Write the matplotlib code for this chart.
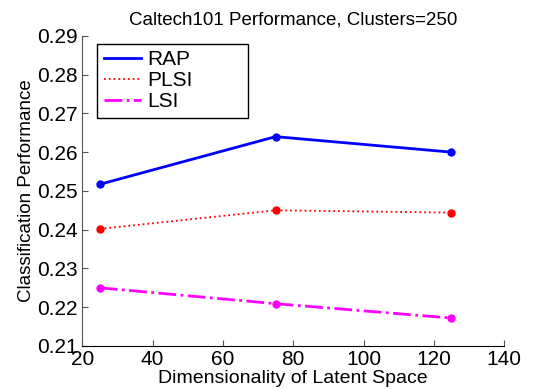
import numpy as np
import matplotlib
matplotlib.use('Agg')
import matplotlib.pyplot as plt

plt.rcParams['font.family'] = ['Liberation Sans', 'DejaVu Sans']

# data
dims = [25, 75, 125]
rap = [0.2517, 0.2640, 0.2600]
plsi = [0.2402, 0.2450, 0.2444]
lsi = [0.2250, 0.2209, 0.2172]

fig = plt.figure(figsize=(5.48, 3.9), dpi=100)
ax = fig.add_axes([0.150, 0.113, 0.770, 0.795])

ax.plot(dims, rap, '-', color='#0000ff', lw=2, marker='o', ms=5, label='RAP')
ax.plot(dims, plsi, ':', color='#ff0000', lw=1.3, marker='o', ms=5, label='PLSI')
ax.plot(dims, lsi, '-.', color='#ff00ff', lw=2, marker='o', ms=5, label='LSI')

ax.set_xlim(20, 140)
ax.set_ylim(0.21, 0.29)
ax.set_xticks(np.arange(20, 141, 20))
ax.set_yticks(np.arange(0.21, 0.2901, 0.01))
ax.set_yticklabels(['%.2f' % v for v in np.arange(0.21, 0.2901, 0.01)])
ax.tick_params(direction='in', labelsize=15, length=4, color='#555555', pad=3)
ax.spines['top'].set_visible(False)
ax.spines['right'].set_visible(False)
ax.spines['left'].set_color('#555555')
ax.spines['bottom'].set_color('black')

ax.set_title('Caltech101 Performance, Clusters=250', fontsize=13.5, pad=8)
ax.set_xlabel('Dimensionality of Latent Space', fontsize=14, labelpad=1)
ax.set_ylabel('Classification Performance', fontsize=13.5, labelpad=2)

leg = ax.legend(loc='upper left', bbox_to_anchor=(0.036, 0.739, 0.357, 0.235),
                mode='expand', fontsize=15, fancybox=False, edgecolor='black',
                framealpha=1, handlelength=1.8, handletextpad=0.3,
                borderaxespad=0, borderpad=0.3, labelspacing=0.1)
leg.get_frame().set_linewidth(1.0)
for h in leg.legend_handles:
    h.set_marker('')

fig.savefig('out.png', dpi=100)
